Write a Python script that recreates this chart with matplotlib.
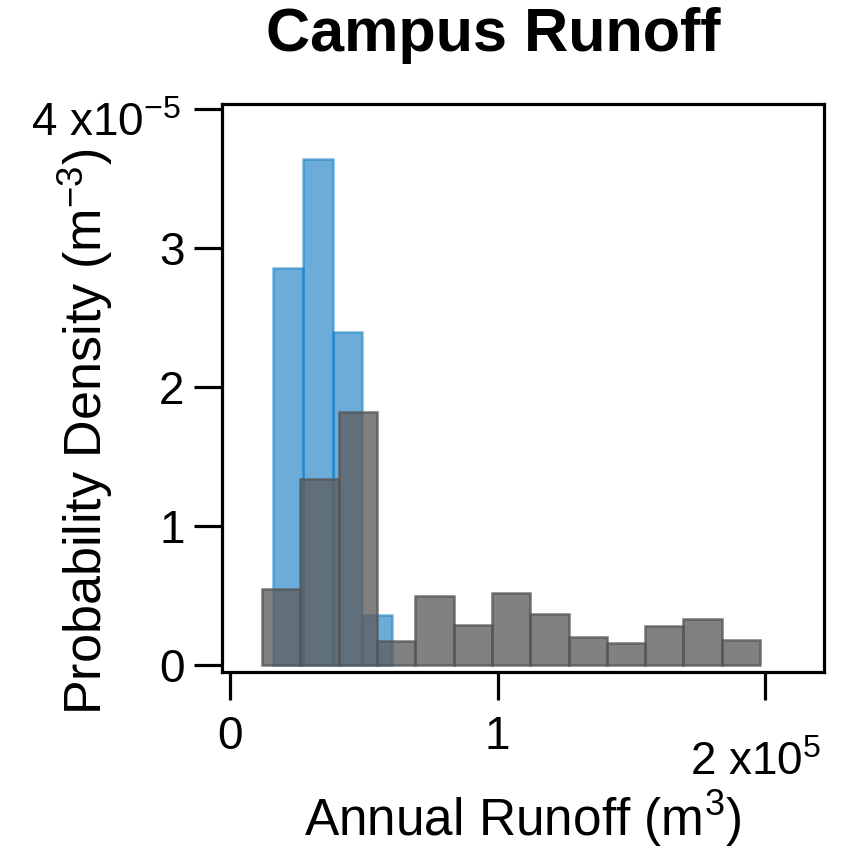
import matplotlib
matplotlib.use("Agg")
import matplotlib.pyplot as plt
import numpy as np

plt.rcParams['font.family'] = ['Liberation Sans', 'DejaVu Sans']
plt.rcParams['mathtext.fontset'] = 'custom'
plt.rcParams['mathtext.rm'] = 'Liberation Sans'
plt.rcParams['mathtext.default'] = 'regular'

# runoff in 1e5 m^3, density in 1e-5 m^-3
blue_edges = [0.161, 0.272, 0.383, 0.494, 0.605]
blue_density = [2.86, 3.64, 2.40, 0.36]

gray_edges = [0.12, 0.263, 0.406, 0.549, 0.692, 0.836, 0.979, 1.122,
              1.265, 1.408, 1.551, 1.694, 1.837, 1.98]
gray_density = [0.55, 1.34, 1.82, 0.17, 0.50, 0.29, 0.52, 0.37,
                0.20, 0.16, 0.28, 0.33, 0.18]

yticks = [0, 1, 2, 3, 4]
ytick_labels = ['0', '1', '2', '3', '']
xticks = [0, 1, 2]
xtick_labels = ['0', '1', '']

fig = plt.figure(figsize=(8.41, 8.48), dpi=100)
ax = fig.add_axes([0.264, 0.2075, 0.716, 0.6695])

be = np.array(blue_edges)
ge = np.array(gray_edges)
ax.bar(be[:-1], blue_density, width=np.diff(be), align='edge',
       color=(0.0, 0.447, 0.741), alpha=0.58, edgecolor=(0.1, 0.5, 0.78),
       linewidth=1.8)
ax.bar(ge[:-1], gray_density, width=np.diff(ge), align='edge',
       color=(0.37, 0.37, 0.37), alpha=0.78, edgecolor=(0.33, 0.33, 0.33),
       linewidth=1.8)

ax.set_xlim(-0.03, 2.22)
ax.set_ylim(-0.05, 4.036)
ax.set_yticks(yticks)
ax.set_yticklabels(ytick_labels)
ax.set_xticks(xticks)
ax.set_xticklabels(xtick_labels)

for s in ax.spines.values():
    s.set_linewidth(2.3)
ax.tick_params(axis='both', direction='out', length=20, width=2.3,
               labelsize=33)
ax.tick_params(axis='y', pad=7)
ax.tick_params(axis='x', pad=11)

# exponent labels sit a bit off the normal tick label spots
ax.text(1.963, -0.181, r'2 x10$^{5}$', transform=ax.get_xaxis_transform(),
        ha='center', va='baseline', fontsize=33)
ax.text(-0.068, 3.81, r'4 x10$^{-5}$', transform=ax.get_yaxis_transform(),
        ha='right', va='baseline', fontsize=33)

ax.set_xlabel(r'Annual Runoff (m$^{3}$)', fontsize=37)
ax.xaxis.set_label_coords(0.5, -0.205)
ax.set_ylabel(r'Probability Density (m$^{-3}$)', fontsize=37.5)
ax.yaxis.set_label_coords(-0.178, 0.4225)

fig.text(493 / 841, 1 - 36 / 848, 'Campus Runoff', ha='center', va='center',
         fontsize=44, fontweight='bold')

fig.savefig('out.png', dpi=100)
